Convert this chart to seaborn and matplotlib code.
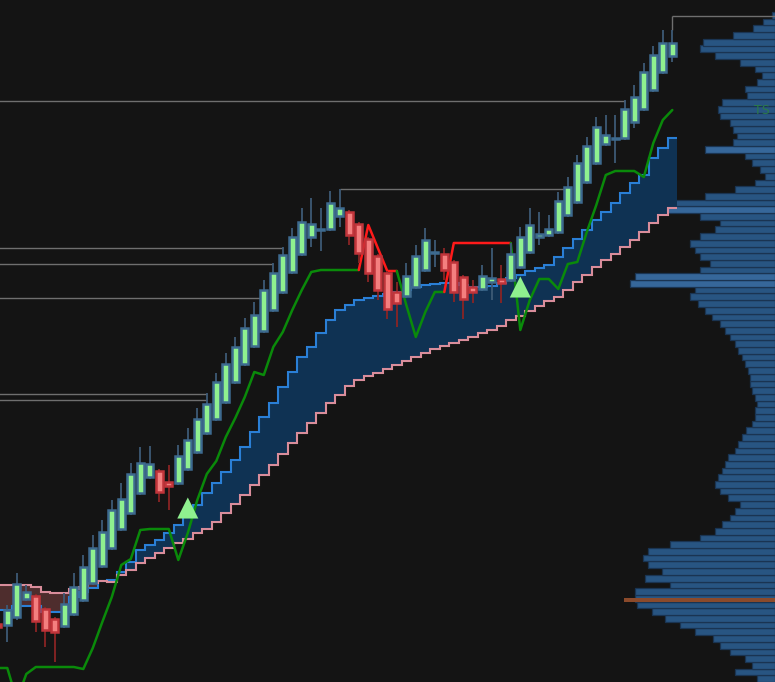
import numpy as np
import matplotlib
matplotlib.use("Agg")
import matplotlib.pyplot as plt
import seaborn as sns

# ---- price bars (index -1 is the partial bar cut by the left edge) ----
bar_idx = np.arange(-1, 71)
opens = [58, 57, 65, 83, 86, 73, 63, 56, 68, 82, 99, 116, 134, 153, 169, 189, 205, 211, 200, 199,
         213, 230, 249, 263, 280, 300, 318, 336, 351, 372, 390, 410, 428, 445, 452, 453, 466, 470,
         458, 443, 426, 409, 390, 386, 395, 412, 429, 428, 420, 405, 395, 393, 400, 403, 402, 415,
         430, 445, 447, 450, 467, 480, 500, 519, 538, 543, 544, 560, 573, 592, 610, 626]
closes = [55, 72, 98, 90, 61, 52, 50, 78, 95, 115, 134, 150, 172, 183, 208, 219, 218, 190, 196, 226,
          242, 263, 278, 300, 318, 335, 354, 367, 392, 409, 427, 445, 460, 458, 453, 479, 474, 447,
          429, 409, 392, 373, 379, 406, 426, 442, 430, 412, 390, 383, 390, 406, 404, 399, 428, 445,
          457, 448, 453, 481, 495, 519, 536, 555, 547, 544, 573, 585, 610, 627, 639, 639]
highs = [60, 77, 109, 97, 88, 75, 65, 89, 109, 127, 147, 162, 182, 199, 219, 235, 236, 213, 217, 237,
         254, 274, 289, 309, 329, 345, 364, 380, 402, 419, 435, 454, 474, 484, 474, 491, 493, 472,
         460, 445, 428, 411, 400, 419, 437, 454, 442, 434, 422, 407, 402, 417, 434, 417, 439, 455,
         474, 470, 467, 490, 505, 527, 545, 565, 567, 567, 582, 597, 619, 636, 652, 652]
lows = [52, 40, 62, 81, 50, 35, 20, 54, 66, 80, 97, 114, 132, 151, 167, 187, 203, 180, 172, 197,
        211, 228, 247, 261, 278, 298, 316, 334, 349, 370, 388, 408, 426, 435, 431, 451, 455, 437,
        419, 400, 382, 363, 355, 384, 393, 410, 415, 402, 380, 363, 379, 391, 382, 379, 400, 413,
        428, 437, 445, 448, 465, 478, 498, 517, 536, 519, 542, 554, 571, 590, 608, 620]

# ---- cloud bands ----
band_fast = [72, 72, 76, 76, 76, 70, 70, 70, 85, 90, 94, 101, 102, 110, 120, 132, 137, 142, 149, 157,
             165, 177, 189, 199, 210, 222, 235, 250, 265, 279, 295, 310, 325, 335, 349, 362, 372, 377,
             382, 384, 386, 388, 390, 392, 395, 397, 398, 399, 399, 397, 395, 395, 396, 399, 404, 407,
             411, 414, 417, 425, 434, 443, 452, 462, 470, 479, 489, 499, 507, 524, 534, 544]
band_slow = [97, 97, 97, 97, 95, 90, 89, 89, 93, 95, 99, 101, 100, 107, 112, 119, 124, 129, 134, 139,
             143, 149, 153, 160, 169, 178, 187, 197, 207, 217, 228, 239, 249, 259, 269, 279, 287, 296,
             302, 306, 309, 313, 317, 321, 325, 329, 333, 336, 339, 342, 345, 349, 352, 356, 362, 366,
             371, 376, 381, 385, 392, 400, 407, 415, 422, 428, 435, 442, 450, 459, 467, 474]

# ---- trailing stop, bearish stretches ----
trail = [14, 14, -18, 8, 15, 15, 15, 15, 15, 13, 34, 60, 85, 117, 123, 152, 153, 153, 153, 122,
         149, 182, 208, 221, 245, 264, 285, 310, 307, 335, 350, 372, 392, 410, 412, 412, 412, 412,
         412, 457, 434, 411, 411, 377, 345, 370, 390, 390, 439, 439, 439, 439, 439, 439, 439, 352,
         382, 403, 403, 393, 418, 420, 450, 477, 507, 511, 511, 511, 505, 539, 562, 572]
down_spans = [(37, 41), (46, 53)]

# buy signals
signal_idx = [19, 54]
signal_price = [174, 395]

# horizontal levels
level_price = [666, 581, 493, 434, 418, 384, 288, 282]
level_from = [70, -2, 35, -2, -2, -2, -2, -2]
level_to = [81, 65, 59, 29, 28, 27, 21, 21]

# volume profile (bottom to top)
profile_step = 6.7
profile_vol = [18, 40, 23, 30, 45, 55, 62, 80, 95, 110, 123, 138, 140, 140, 105, 130, 113, 127, 132, 127,
               105, 75, 60, 53, 45, 40, 35, 47, 55, 60, 57, 53, 50, 47, 40, 37, 33, 29, 23, 20,
               20, 18, 20, 23, 25, 25, 27, 30, 33, 37, 40, 45, 50, 55, 63, 70, 77, 85, 80, 145,
               140, 75, 65, 75, 80, 85, 75, 60, 55, 75, 120, 100, 70, 40, 20, 10, 15, 23, 30, 70,
               42, 38, 42, 45, 55, 57, 53, 28, 30, 18, 13, 20, 35, 60, 75, 72, 42, 22, 12, 3]
profile_hi = [59, 60, 70, 79]
poc_price = 82
poc_vol = 151

BG = "#141414"
sns.set_theme(style="dark", rc={"axes.facecolor": BG, "figure.facecolor": BG})

fig = plt.figure(figsize=(7.75, 6.82), dpi=100)
ax = fig.add_axes([0, 0, 1, 1])
ax2 = ax.twiny()
ax.set_zorder(ax2.get_zorder() + 1)
ax.patch.set_visible(False)
ax2.set_facecolor(BG)

# volume profile on the twin axis, growing from the right edge
centers = np.arange(len(profile_vol)) * profile_step + profile_step / 2
cols = ["#36679a" if k in profile_hi else "#285582" for k in range(len(profile_vol))]
ax2.barh(centers, profile_vol, height=profile_step, color=cols, edgecolor="#1a3452", linewidth=0.9)
ax2.barh(poc_price, poc_vol, height=3.5, color="#8b4a2b", linewidth=0)
ax2.set_xlim(poc_vol / 0.195, 0)

o = np.array(opens); c = np.array(closes); h = np.array(highs); l = np.array(lows)
up = c >= o

# cloud
fast = np.array(band_fast, float); slow = np.array(band_slow, float)
edges = np.append(bar_idx - 0.5, bar_idx[-1] + 0.5)
ax.stairs(np.where(fast >= slow, fast, slow), edges, baseline=slow, fill=True,
          color="#0f3253", lw=0, zorder=1)
ax.stairs(np.where(slow > fast, slow, fast), edges, baseline=fast, fill=True,
          color="#553030", alpha=0.9, lw=0, zorder=1)
ax.stairs(fast, edges, baseline=None, color="#2a7fd6", lw=1.5, zorder=2)
ax.stairs(slow, edges, baseline=None, color="#d98d9b", lw=1.5, zorder=2)

# levels
for p, a, b in zip(level_price, level_from, level_to):
    ax.hlines(p, a, b, color="#6f6f6f", lw=1.0, zorder=2)
    if a >= 0:
        ax.vlines(a, h[a + 1], p, color="#6f6f6f", lw=1.0, zorder=2)

# trailing stop: green while bullish, red on the bearish stretches
tr = np.array(trail, float)
bounds = [-1]
for a, b in down_spans:
    bounds += [a, b]
bounds.append(70)
for k in range(len(bounds) - 1):
    a, b = bounds[k], bounds[k + 1]
    sel = (bar_idx >= a) & (bar_idx <= b)
    color = "#ff1a1a" if k % 2 == 1 else "#0a8a0a"
    sns.lineplot(x=bar_idx[sel], y=tr[sel], color=color, lw=1.8, sort=False, ax=ax, zorder=3)

# candles
wick_cols = np.where(up, "#3d5a76", "#8a2424")
ax.vlines(bar_idx, l, h, colors=wick_cols, lw=1.3, zorder=4)
body_lo = np.minimum(o, c)
body_h = np.maximum(np.abs(c - o), 1.5)
ax.bar(bar_idx, body_h, bottom=body_lo, width=0.7,
       color=np.where(up, "#8ff08f", "#f47f7f"),
       edgecolor=np.where(up, "#3d6a8f", "#c0343a"), linewidth=1.8, zorder=5)

# buy signals
sns.scatterplot(x=signal_idx, y=signal_price, marker="^", s=230, color="#8ff08f",
                edgecolor="none", ax=ax, zorder=6)

ax.set_xlim(-7.3 / 9.5, (775 - 7.3) / 9.5)
ax.set_ylim(0, 682)
for a_ in (ax, ax2):
    a_.set_xticks([]); a_.set_yticks([])
    a_.set_xlabel(""); a_.set_ylabel("")
    for s in a_.spines.values():
        s.set_visible(False)

fig.text(762 / 775, 1 - 110 / 682, "TS", color="#2a7a4a", fontsize=9, ha="center", va="center")

fig.savefig("out.png", dpi=100, facecolor=BG)
